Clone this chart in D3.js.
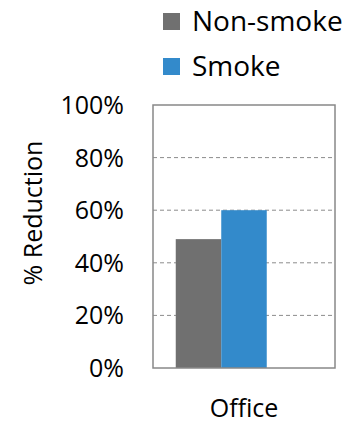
<!DOCTYPE html>
<html><head><meta charset="utf-8">
<script src="https://cdn.jsdelivr.net/npm/d3@7"></script>
<style>
html,body{margin:0;padding:0;background:#fff;}
svg{display:block;font-family:"Open Sans",sans-serif;}
</style></head>
<body>
<svg id="chart" width="359" height="426"></svg>
<script>
const categories = ["Office"];
const series = ["Non-smoke", "Smoke"];
const nonSmokeValues = [0.49];
const smokeValues = [0.60];
const seriesColors = ["#707070", "#338acb"];
const yTicks = [0, 0.2, 0.4, 0.6, 0.8, 1.0];
const yTickLabels = ["0%", "20%", "40%", "60%", "80%", "100%"];
const yTitle = "% Reduction";

const valuesBySeries = [nonSmokeValues, smokeValues];
const svg = d3.select("#chart");
const m = {left:153, right:335, top:105, bottom:368};

const y = d3.scaleLinear().domain([0, 1]).range([m.bottom, m.top]);
const x0 = d3.scaleBand().domain(categories).range([m.left, m.right]).paddingInner(0.25).paddingOuter(0.125);
const slots = series.concat([""]);
const x1 = d3.scaleBand().domain(slots).range([0, x0.bandwidth()]);

// gridlines
svg.append("g").selectAll("line").data(yTicks.filter(t => t > 0 && t < 1)).join("line")
  .attr("x1", m.left).attr("x2", m.right)
  .attr("y1", d => y(d)).attr("y2", d => y(d))
  .attr("stroke", "#8c8c8c").attr("stroke-width", 1).attr("stroke-dasharray", "4,3");

// bars
const data = [];
categories.forEach((c, i) => series.forEach((s, j) => data.push({c, s, v: valuesBySeries[j][i], color: seriesColors[j]})));
svg.append("g").selectAll("rect").data(data).join("rect")
  .attr("x", d => x0(d.c) + x1(d.s))
  .attr("width", x1.bandwidth())
  .attr("y", d => y(d.v))
  .attr("height", d => y(0) - y(d.v))
  .attr("fill", d => d.color);

// frame
svg.append("rect").attr("x", m.left).attr("y", m.top)
  .attr("width", m.right - m.left).attr("height", m.bottom - m.top)
  .attr("fill", "none").attr("stroke", "#888").attr("stroke-width", 1.5);

// y axis
const yAxis = d3.axisLeft(y).tickValues(yTicks).tickFormat((d, i) => yTickLabels[i]).tickSize(0).tickPadding(29);
const gy = svg.append("g").attr("transform", `translate(${m.left},0)`).call(yAxis);
gy.select(".domain").remove();
gy.selectAll("text").attr("font-size", 25).attr("fill", "#000").attr("font-family", "Open Sans").attr("dy", "0.34em");

// x axis
const xAxis = d3.axisBottom(x0).tickSize(0).tickPadding(31);
const gx = svg.append("g").attr("transform", `translate(0,${m.bottom})`).call(xAxis);
gx.select(".domain").remove();
gx.selectAll("text").attr("font-size", 25).attr("fill", "#000").attr("font-family", "Open Sans")
  .attr("x", (m.left + m.right) / 2 - (x0(categories[0]) + x0.bandwidth() / 2));

// y title
svg.append("text").attr("transform", `translate(42,213) rotate(-90)`)
  .attr("text-anchor", "middle").attr("font-size", 25).attr("fill", "#000").text(yTitle);

// legend
const lg = svg.append("g").selectAll("g").data(series).join("g")
  .attr("transform", (d, i) => `translate(163,${13 + i * 45})`);
lg.append("rect").attr("width", 17).attr("height", 17).attr("fill", (d, i) => seriesColors[i]);
lg.append("text").attr("x", 29).attr("y", 18).attr("font-size", 28).attr("fill", "#000").text(d => d);
</script>
</body></html>
